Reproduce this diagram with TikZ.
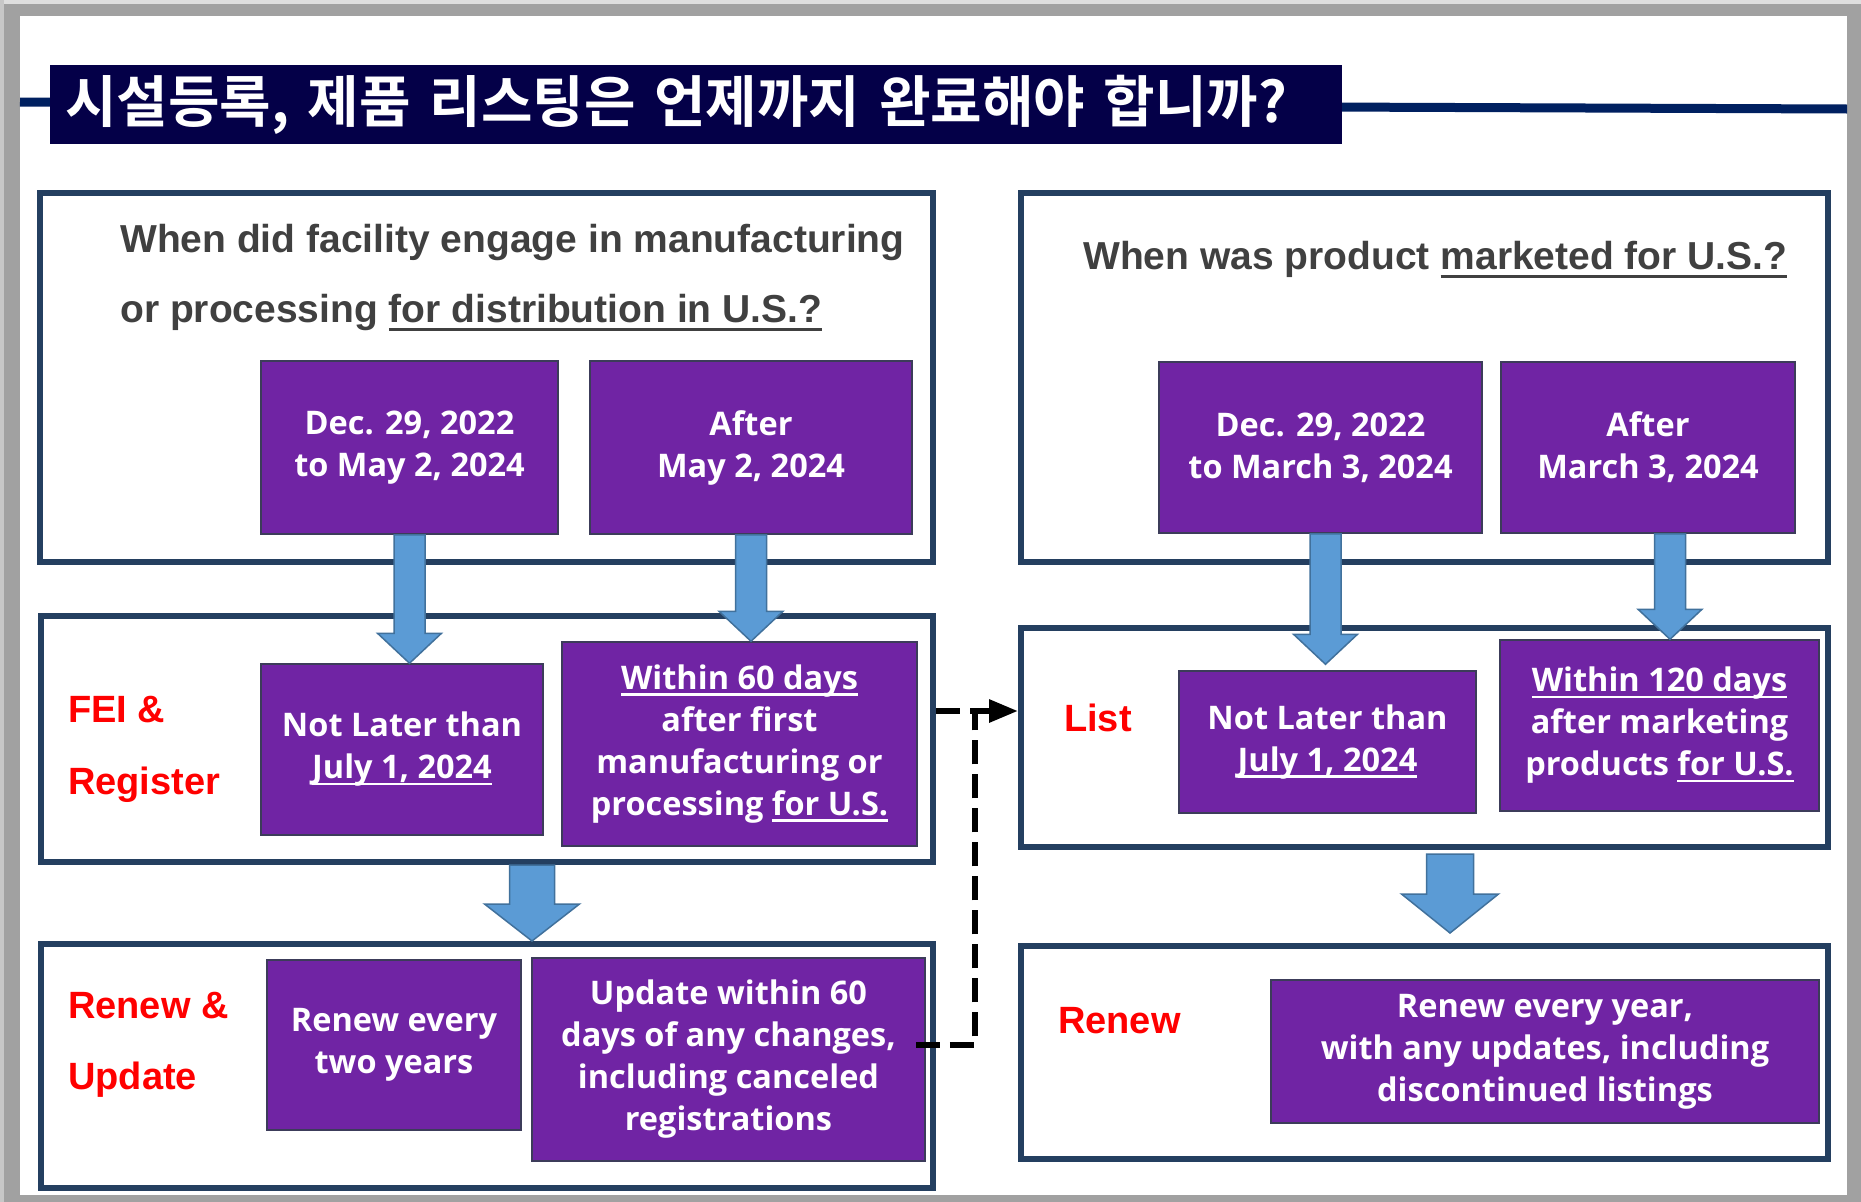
\documentclass[tikz,border=0pt]{standalone}
\usepackage{fontspec}
\setmainfont{Liberation Sans}
\newfontfamily\boxfont{Open Sans}
\newfontfamily\kofont{Noto Sans CJK KR}[BoldFont={Noto Sans CJK KR Bold}]
\usepackage{tikz}
\usetikzlibrary{positioning,calc,arrows.meta}

\definecolor{titlenavy}{RGB}{4,0,72}
\definecolor{rulenavy}{RGB}{0,32,96}
\definecolor{panelblue}{RGB}{36,63,96}
\definecolor{boxpurple}{RGB}{112,36,164}
\definecolor{boxedge}{RGB}{60,60,90}
\definecolor{arrowfill}{RGB}{91,155,213}
\definecolor{arrowedge}{RGB}{65,113,156}
\definecolor{qgray}{RGB}{64,64,64}

% underline with a fixed offset below the baseline
\newcommand{\undl}[2][4pt]{\leavevmode\setbox0\hbox{#2}\rlap{\vrule height -#1 depth \dimexpr#1+2.5pt\relax width \wd0}\box0}

% fat down arrow: shaft half width, head half width, head length, from, to
\newcommand{\blockarrow}[5]{%
  \filldraw[blockarrow] let \p1=(#4), \p2=(#5) in
    (\x1-#1,\y1) -- (\x1+#1,\y1) -- (\x1+#1,\y2+#3) -- (\x1+#2,\y2+#3)
    -- (\x1,\y2) -- (\x1-#2,\y2+#3) -- (\x1-#1,\y2+#3) -- cycle;}

\tikzset{
  panel/.style={draw=panelblue,line width=6pt,fill=white,inner sep=0pt},
  datebox/.style={draw=boxedge,line width=1.5pt,fill=boxpurple,text=white,align=center,inner sep=0pt,
    font=\boxfont\bfseries\fontsize{32.5}{42}\selectfont},
  question/.style={anchor=base west,inner sep=0pt,text=qgray,font=\bfseries\fontsize{39}{47}\selectfont},
  redlabel/.style={anchor=base west,inner sep=0pt,text=red,font=\bfseries\fontsize{38}{46}\selectfont},
  titlebar/.style={fill=titlenavy,text=white,minimum height=79pt,text width=1262pt,inner xsep=15pt,
    inner ysep=0pt,align=left,font=\kofont\bfseries\fontsize{56}{60}\selectfont},
  blockarrow/.style={fill=arrowfill,draw=arrowedge,line width=1.5pt},
  dashlink/.style={draw=black,line width=6pt,dash pattern=on 24pt off 10pt},
}

\begin{document}
\begin{tikzpicture}[x=1pt,y=-1pt]
  \useasboundingbox (0,0) rectangle (1861,1202);
  % slide frame
  \fill[black!37] (0,0) rectangle (1861,1202);
  \fill[black!13] (0,0) rectangle (1861,4);
  \fill[black!22] (0,0) rectangle (4,1202);
  \fill[white] (20,16) rectangle (1847,1195);

  % title
  \draw[rulenavy,line width=9pt] (20,102) -- (1847,109);
  \node[titlebar] (title) at (696,104.5) {시설등록, 제품 리스팅은 언제까지 완료해야 합니까?};

  % panels
  \node[panel,minimum width=893pt,minimum height=369pt] (q1) at (486.5,377.5) {};
  \node[panel,minimum width=892pt,minimum height=246pt] (fei) at (487,739) {};
  \node[panel,minimum width=892pt,minimum height=244pt] (upr) at (487,1066) {};
  \node[panel,minimum width=807pt,minimum height=369pt] (q2) at (1424.5,377.5) {};
  \node[panel,minimum width=807pt,minimum height=219pt] (lst) at (1424.5,737.5) {};
  \node[panel,minimum width=807pt,minimum height=213pt] (rnw) at (1424.5,1052.5) {};

  % questions
  \node[question] (q1a) at (120,252) {When did facility engage in manufacturing};
  \node[question] (q1b) at (120,322) {or processing \undl[6pt]{for distribution in U.S.?}};
  \node[question] (q2a) at (1083,269) {When was product \undl[6pt]{marketed for U.S.?}};

  % red labels
  \node[redlabel] (fei1) at (68,722) {FEI \&};
  \node[redlabel] (fei2) at (68,794) {Register};
  \node[redlabel] (upr1) at (68,1018) {Renew \&};
  \node[redlabel] (upr2) at (68,1089) {Update};
  \node[redlabel] (lst1) at (1064,731) {List};
  \node[redlabel] (rnw1) at (1058,1033) {Renew};

  % purple boxes
  \node[datebox,minimum width=297pt,minimum height=173pt] (p1) at (409.5,447.5) {Dec. 29, 2022\\to May 2, 2024};
  \node[datebox,minimum width=322pt,minimum height=173pt] (p2) at (751,447.5) {After\\May 2, 2024};
  \node[datebox,minimum width=323pt,minimum height=171pt] (p3) at (1320.5,447.5) {Dec. 29, 2022\\to March 3, 2024};
  \node[datebox,minimum width=294pt,minimum height=171pt] (p4) at (1648,447.5) {After\\March 3, 2024};
  \node[datebox,minimum width=282pt,minimum height=171pt] (nl1) at (402,749.5) {Not Later than\\\undl{July 1, 2024}};
  \node[datebox,minimum width=355pt,minimum height=204pt] (w60) at (739.5,744) {\undl{Within 60 days}\\after first\\manufacturing or\\processing \undl{for U.S.}};
  \node[datebox,minimum width=297pt,minimum height=142pt] (nl2) at (1327.5,742) {Not Later than\\\undl{July 1, 2024}};
  \node[datebox,minimum width=319pt,minimum height=171pt] (w120) at (1659.5,725.5) {\undl{Within 120 days}\\after marketing\\products \undl{for U.S.}};
  \node[datebox,minimum width=254pt,minimum height=170pt] (ren2) at (394,1045) {Renew every\\two years};
  \node[datebox,minimum width=393pt,minimum height=203pt] (upd) at (728.5,1059.5) {Update within 60\\days of any changes,\\including canceled\\registrations};
  \node[datebox,minimum width=548pt,minimum height=143pt] (ren1) at (1545,1051.5) {Renew every year,\\with any updates, including\\discontinued listings};

  % arrows
  \blockarrow{15.5pt}{32pt}{30pt}{p1.south}{nl1.north}
  \blockarrow{15.5pt}{32pt}{30pt}{p2.south}{w60.north}
  \blockarrow{15.5pt}{32pt}{30pt}{[xshift=5pt]p3.south}{[yshift=6pt]nl2.north}
  \blockarrow{15.5pt}{32pt}{30pt}{[xshift=22pt]p4.south}{w120.north}
  \blockarrow{22.5pt}{47.5pt}{37pt}{[xshift=45pt]fei.south}{upr.north}
  \blockarrow{23.5pt}{48.5pt}{39pt}{[xshift=25.5pt,yshift=-4pt]lst.south}{[yshift=10pt]rnw.north}

  \coordinate (bend) at (975,711);
  \draw[dashlink,-{Triangle[length=29pt,width=22pt]}] (bend -| fei.east) -- (bend -| lst.west);
  \draw[dashlink] ([xshift=-10pt,yshift=14.5pt]upd.east) -| (bend);
\end{tikzpicture}
\end{document}
